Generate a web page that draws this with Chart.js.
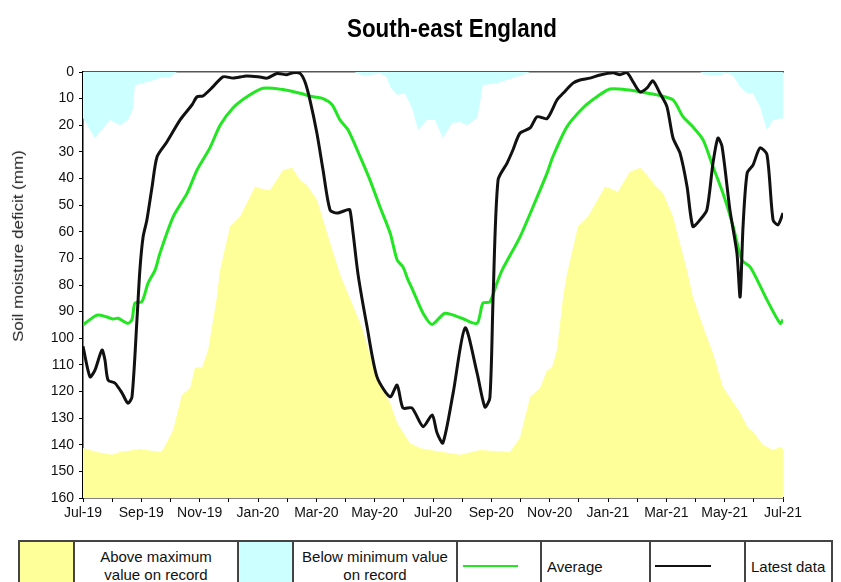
<!DOCTYPE html>
<html>
<head>
<meta charset="utf-8">
<script src="https://cdn.jsdelivr.net/npm/chart.js@4"></script>
<style>
  body { margin: 0; background: #fff; width: 841px; height: 582px; overflow: hidden; position: relative; font-family: "Liberation Sans", Arial, sans-serif; }
  #wrap { position: absolute; left: 0; top: 0; width: 841px; height: 530px; }
  #title { position: absolute; left: 452px; top: 15px; font-size: 26px; font-weight: bold; line-height: 26px; white-space: nowrap; transform: translateX(-50%) scaleX(0.86); color: #000; }
  #ylab { position: absolute; left: 18px; top: 246px; font-size: 17px; line-height: 17px; white-space: nowrap; color: #222; transform: translate(-50%, -50%) rotate(-90deg) scaleY(0.85); }
  #legend { position: absolute; left: 18px; top: 540px; border-collapse: collapse; font-size: 15px; color: #111; }
  #legend td { border: 2px solid #444; height: 48px; padding: 0; }
  .swatch { width: 53px; }
  .lbl { width: 162px; text-align: center; line-height: 18px; }
  .txt { text-align: left; padding-left: 5px !important; }
  .ln { height: 2px; }
</style>
</head>
<body>
<div id="wrap"><canvas id="chart" width="841" height="530"></canvas></div>
<div id="title">South-east England</div>
<div id="ylab">Soil moisture deficit (mm)</div>
<table id="legend">
  <tr>
    <td class="swatch" style="background:#ffff99"></td>
    <td class="lbl">Above maximum<br>value on record</td>
    <td class="swatch" style="background:#ccffff"></td>
    <td class="lbl">Below minimum value<br>on record</td>
    <td style="width:82px"><div class="ln" style="width:55px;margin-left:5px;background:#22e622"></div></td>
    <td class="txt" style="width:102px">Average</td>
    <td style="width:93px"><div class="ln" style="width:56px;margin-left:4px;background:#111"></div></td>
    <td class="txt" style="width:80px">Latest data</td>
  </tr>
</table>
<script>
// x values are months since Jul-19
const monthLabels = ['Jul-19', 'Sep-19', 'Nov-19', 'Jan-20', 'Mar-20', 'May-20', 'Jul-20',
  'Sep-20', 'Nov-20', 'Jan-21', 'Mar-21', 'May-21', 'Jul-21'];

// maximum deficit on record (yellow fills from here down to 160)
const maxRecMonths = [0, 0.48, 0.99, 1.27, 1.95, 2.64, 2.74, 3.09, 3.39, 3.67, 3.84, 4.08, 4.29, 4.59, 4.70,
  5.04, 5.38, 5.90, 6.17, 6.41, 6.86, 7.17, 7.44, 7.68, 8.02, 8.37, 8.81, 9.22, 9.60, 10.08, 10.53, 10.77,
  11.21, 11.55, 11.90, 12.93, 13.61, 14.64, 14.98, 15.33, 15.67, 15.91, 16.08, 16.25, 16.46, 16.59, 16.97,
  17.31, 17.90, 18.34, 18.75, 19.10, 19.34, 19.61, 19.89, 20.23, 20.74, 20.91, 21.26, 21.60, 21.94, 22.53,
  22.80, 22.97, 23.31, 23.66, 23.90, 24];
const maxRecValues = [141.2, 142.7, 143.8, 142.7, 141.6, 142.7, 142, 134.5, 121.3, 118.7, 111, 111, 104.4, 84.5, 74.4,
  58, 54.4, 43, 44, 44.4, 36.8, 36, 40.6, 42.5, 48, 60.5, 76, 86.8, 97, 115.7, 124.3, 131.8,
  139.3, 141.2, 142, 143.8, 142, 142.7, 137.5, 122, 118.7, 112, 111, 104.4, 84.5, 76, 58,
  54.4, 43, 45, 37.5, 36, 38.7, 42.5, 45.5, 54.4, 76, 84.5, 95.7, 105.6, 118.3, 128,
  133.7, 135, 140, 142, 140.8, 141.5];

// minimum deficit on record (blue fills from here up to 0)
const minRecMonths = [0, 0.41, 0.93, 1.27, 1.54, 1.71, 1.78, 2.30, 2.64, 2.98, 3.22, 9.30, 9.39, 9.60, 9.91,
  10.18, 10.42, 10.53, 10.77, 11.04, 11.28, 11.49, 11.79, 12.07, 12.34, 12.65, 12.93, 13.17, 13.51, 13.61,
  13.71, 14.19, 14.74, 15.09, 15.33, 21.15, 21.33, 21.84, 22.08, 22.29, 22.53, 22.77, 22.97, 23.21, 23.45,
  23.66, 23.90, 24];
const minRecValues = [17.3, 24.8, 18, 20, 18, 14, 5, 3.5, 2.3, 2, 0, 0, 0.5, 1.3, 1,
  0.5, 2, 5.5, 8.6, 8, 13.5, 21.8, 18, 18, 24.8, 19.2, 18.8, 20, 17.3, 11.7,
  4.9, 4.2, 2.3, 1, 0, 0, 1, 1.2, 0.3, 1.5, 5.5, 8, 8, 13, 21.8,
  18, 17.5, 17.5];

// long term average
const avgMonths = [0, 0.48, 0.82, 1.03, 1.20, 1.54, 1.68, 1.78, 2.02, 2.23, 2.47, 2.64, 3.09, 3.57, 3.91,
  4.35, 4.70, 5.14, 5.62, 6.17, 6.86, 7.44, 7.89, 8.23, 8.54, 8.81, 9.09, 9.50, 9.84, 10.18, 10.53, 10.77,
  10.97, 11.14, 11.31, 11.66, 11.97, 12.41, 12.99, 13.51, 13.71, 13.95, 14.19, 14.37, 14.98, 15.43, 15.91,
  16.11, 16.59, 17.14, 17.62, 18.07, 18.75, 19.10, 19.68, 20.23, 20.57, 20.91, 21.26, 21.60, 21.94, 22.29,
  22.59, 22.87, 23.11, 23.45, 23.90, 24];
const avgValues = [95, 91.3, 92, 92.8, 92.5, 94.4, 93, 86.8, 86.3, 79.3, 74.4, 68, 54.4, 45.5, 36.8,
  28.5, 20, 13.5, 9.3, 6.1, 6.6, 8, 9.3, 10, 12.3, 18, 21.8, 31.8, 40.6, 50.6, 60.5, 70.6,
  73.2, 78, 82, 90.6, 94.8, 90.6, 92.5, 94.4, 86.8, 86.3, 79.3, 74.4, 62, 50.6, 38,
  31.8, 20.6, 13.5, 9.3, 6.4, 6.8, 7.5, 8.6, 10.5, 16.8, 20.6, 25.5, 35.6, 45.5, 58,
  70.6, 73.2, 78, 85.6, 94.4, 93];

// latest data
const latestMonths = [0, 0.24, 0.41, 0.65, 0.75, 0.86, 1.10, 1.34, 1.54, 1.68, 1.85, 1.95, 2.06, 2.19, 2.37,
  2.54, 2.88, 3.33, 3.74, 3.91, 4.11, 4.46, 4.80, 5.14, 5.62, 6.07, 6.31, 6.65, 6.99, 7.20, 7.44, 7.61,
  7.78, 8.02, 8.23, 8.47, 8.71, 9.05, 9.15, 9.26, 9.43, 9.74, 10.08, 10.53, 10.77, 10.97, 11.28, 11.66,
  11.97, 12.14, 12.34, 12.69, 13.10, 13.51, 13.78, 13.95, 14.06, 14.23, 14.54, 14.74, 14.98, 15.33, 15.57,
  15.91, 16.25, 16.46, 16.80, 17.04, 17.38, 17.73, 18.17, 18.41, 18.65, 18.86, 19.10, 19.34, 19.54, 19.78,
  20.02, 20.23, 20.47, 20.71, 20.91, 21.15, 21.39, 21.60, 21.77, 21.91, 22.18, 22.42, 22.53, 22.63, 22.77,
  22.97, 23.21, 23.45, 23.66, 23.83, 24];
const latestValues = [103, 114.5, 112, 104.4, 108, 115.7, 116.9, 120.6, 124.4, 122, 93, 74.4, 62, 55.6, 43,
  31.8, 26.2, 18, 12.3, 9.3, 9, 5.5, 1.8, 2.3, 1.5, 1.9, 2.3, 0.6, 1, 0.3, 0.5, 3.7,
  10.5, 23, 36.8, 51.8, 53, 51.8, 51.8, 60.5, 76, 95.7, 114.5, 122, 117.6, 126.2, 126.2, 133.2,
  128.8, 135.6, 139.3, 120.6, 96.1, 113, 125.8, 122.4, 85, 40.6, 34.2, 29.3, 23, 21, 16.8,
  17.5, 10.5, 8, 4.2, 3, 2.3, 1.1, 0.3, 1, 0.3, 3.7, 7.5, 6, 3.3, 8,
  13, 24.8, 30.5, 43, 58, 55.6, 51.8, 34.2, 24.8, 28, 51.8, 68, 84.5, 58, 38,
  35, 28.5, 31, 55.6, 57.4, 53];

const yMin = 0, yMax = 160, yStep = 10;

function pts(xs, ys) {
  return xs.map((x, i) => ({ x: x, y: ys[i] }));
}

const ctx = document.getElementById('chart').getContext('2d');
new Chart(ctx, {
  type: 'line',
  data: {
    datasets: [
      {
        label: 'Latest data',
        data: pts(latestMonths, latestValues),
        borderColor: '#111111',
        borderWidth: 3,
        pointRadius: 0,
        tension: 0.25,
        fill: false,
        order: 0,
      },
      {
        label: 'Average',
        data: pts(avgMonths, avgValues),
        borderColor: '#22e622',
        borderWidth: 3,
        pointRadius: 0,
        tension: 0.25,
        fill: false,
        order: 1,
      },
      {
        label: 'Below minimum value on record',
        data: pts(minRecMonths, minRecValues),
        borderWidth: 0,
        borderColor: 'rgba(0,0,0,0)',
        backgroundColor: '#ccffff',
        pointRadius: 0,
        tension: 0,
        fill: { value: yMin },
        order: 2,
      },
      {
        label: 'Above maximum value on record',
        data: pts(maxRecMonths, maxRecValues),
        borderWidth: 0,
        borderColor: 'rgba(0,0,0,0)',
        backgroundColor: '#ffff99',
        pointRadius: 0,
        tension: 0,
        fill: { value: yMax },
        order: 3,
      },
    ],
  },
  options: {
    responsive: false,
    animation: false,
    events: [],
    layout: { padding: { left: 0, right: 58, top: 72, bottom: 0 } },
    plugins: { legend: { display: false }, tooltip: { enabled: false }, title: { display: false } },
    scales: {
      x: {
        type: 'linear',
        min: 0,
        max: 24,
        afterFit: (s) => { s.height = 32; },
        border: { display: true, color: '#000', width: 1.5 },
        grid: { display: true, drawOnChartArea: false, drawTicks: true, tickLength: 4, color: '#000' },
        ticks: {
          stepSize: 1,
          autoSkip: false,
          maxRotation: 0,
          padding: 3,
          color: '#111',
          font: { family: 'Liberation Sans', size: 14 },
          callback: (v) => (v % 2 === 0 ? monthLabels[v / 2] : ''),
        },
      },
      xTop: {
        type: 'linear',
        position: 'top',
        min: 0,
        max: 24,
        afterFit: (s) => { s.height = 0; },
        border: { display: true, color: '#555', width: 1.5 },
        grid: { display: false },
        ticks: { display: false },
      },
      y: {
        reverse: true,
        min: yMin,
        max: yMax,
        afterFit: (s) => { s.width = 83; },
        border: { display: true, color: '#000', width: 1.5 },
        grid: { display: true, drawOnChartArea: false, drawTicks: true, tickLength: 4, color: '#000' },
        ticks: {
          stepSize: yStep,
          padding: 5,
          color: '#111',
          font: { family: 'Liberation Sans', size: 14 },
        },
      },
    },
  },
});
</script>
</body>
</html>
